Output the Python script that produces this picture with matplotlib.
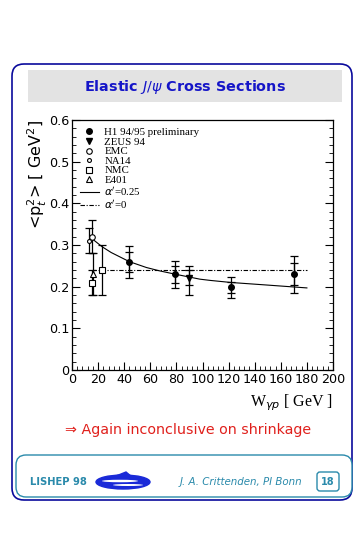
import matplotlib
matplotlib.use("Agg")
import matplotlib.pyplot as plt
from matplotlib.patches import FancyBboxPatch, Rectangle, Ellipse, Polygon
from matplotlib.ticker import MultipleLocator

# H1 94/95 preliminary
h1_w = [44, 79, 122, 170]
h1_pt2 = [0.26, 0.23, 0.199, 0.23]
h1_stat = [0.024, 0.020, 0.013, 0.027]
h1_tot = [0.038, 0.032, 0.025, 0.044]

# ZEUS 94
zeus_w = [90]
zeus_pt2 = [0.222]
zeus_stat = [0.017]
zeus_tot_lo = [0.041]
zeus_tot_hi = [0.027]

# fixed target
emc_w, emc_pt2, emc_err = [15], [0.32], [0.04]
na14_w, na14_pt2, na14_err = [13], [0.31], [0.03]
nmc_w, nmc_pt2, nmc_err = [15, 23], [0.21, 0.24], [0.03, 0.06]
e401_w, e401_pt2, e401_err = [16], [0.23], [0.05]

# alpha' = 0.25 curve
curve_w = [15, 23, 30, 44, 57, 67, 79, 98, 106, 122, 149, 180]
curve_pt2 = [0.316, 0.296, 0.282, 0.260, 0.246, 0.238, 0.230, 0.218, 0.215, 0.210, 0.204, 0.197]
# alpha' = 0 line
flat_w = [15, 180]
flat_pt2 = [0.24, 0.24]

navy = "#0a0a9c"
teal = "#2a8aab"

fig = plt.figure(figsize=(3.63, 5.35), dpi=100)

# slide decoration layer in pixel coords
bg = fig.add_axes([0, 0, 1, 1])
bg.set_xlim(0, 363)
bg.set_ylim(535, 0)
bg.axis("off")
bg.add_patch(FancyBboxPatch((12, 64), 340, 436, boxstyle="round,pad=0,rounding_size=12",
                            fc="white", ec=navy, lw=1.2))
bg.add_patch(Rectangle((28, 70), 314, 32, fc="#e3e3e3", ec="none"))
bg.text(185, 87, r"Elastic $J/\psi$ Cross Sections", color="#1515c8", fontsize=10.4,
        fontweight="bold", ha="center", va="center")
bg.text(188, 430, "\u21d2 Again inconclusive on shrinkage", color="#e0201c", fontsize=10.3,
        ha="center", va="center")
bg.add_patch(FancyBboxPatch((16, 455), 336, 42, boxstyle="round,pad=0,rounding_size=10",
                            fc="white", ec=teal, lw=1.0))
bg.text(30, 482, "LISHEP 98", color=teal, fontsize=7.2, fontweight="bold", va="center")
bg.add_patch(Ellipse((123, 482), 54, 14, fc="#1a2ad8", ec="#1a2ad8"))
bg.add_patch(Polygon([[116, 476], [126, 472], [132, 477]], closed=True, fc="#1a2ad8", ec="#1a2ad8"))
bg.add_patch(Ellipse((120, 481), 36, 2.5, fc="white", ec="none"))
bg.add_patch(Ellipse((128, 485), 30, 2, fc="white", ec="none"))
bg.text(241, 482, "J. A. Crittenden, PI Bonn", color=teal, fontsize=7.4, style="italic",
        ha="center", va="center")
bg.add_patch(FancyBboxPatch((317, 472), 22, 19, boxstyle="round,pad=0,rounding_size=3",
                            fc="white", ec=teal, lw=1.0))
bg.text(328, 482, "18", color=teal, fontsize=7, fontweight="bold", ha="center", va="center")

ax = fig.add_axes([72 / 363, 165 / 535, 261 / 363, 250 / 535])
ax.set_facecolor("none")

ax.plot(curve_w, curve_pt2, "-", color="black", lw=0.8, label=r"$\alpha'$=0.25")
ax.plot(flat_w, flat_pt2, "-.", color="black", lw=0.8, dashes=(4, 1.5, 1, 1.5), label=r"$\alpha'$=0")

ek = dict(fmt="none", ecolor="black", elinewidth=0.9, capsize=3, capthick=0.9)
ax.errorbar(h1_w, h1_pt2, yerr=h1_tot, **ek)
ax.errorbar(h1_w, h1_pt2, yerr=h1_stat, **ek)
ax.errorbar(zeus_w, zeus_pt2, yerr=[zeus_tot_lo, zeus_tot_hi], **ek)
ax.errorbar(zeus_w, zeus_pt2, yerr=zeus_stat, **ek)
ax.errorbar(emc_w, emc_pt2, yerr=emc_err, **ek)
ax.errorbar(na14_w, na14_pt2, yerr=na14_err, **ek)
ax.errorbar(nmc_w, nmc_pt2, yerr=nmc_err, **ek)
ax.errorbar(e401_w, e401_pt2, yerr=e401_err, **ek)

h1 = ax.plot(h1_w, h1_pt2, "o", ms=4, color="black", ls="none", label="H1 94/95 preliminary")[0]
zs = ax.plot(zeus_w, zeus_pt2, "v", ms=4, color="black", ls="none", label="ZEUS 94")[0]
em = ax.plot(emc_w, emc_pt2, "o", ms=4, mfc="white", mec="black", mew=0.8, ls="none", label="EMC")[0]
na = ax.plot(na14_w, na14_pt2, "o", ms=2.8, mfc="white", mec="black", mew=0.8, ls="none", label="NA14")[0]
nm = ax.plot(nmc_w, nmc_pt2, "s", ms=4, mfc="white", mec="black", mew=0.8, ls="none", label="NMC")[0]
e4 = ax.plot(e401_w, e401_pt2, "^", ms=4, mfc="white", mec="black", mew=0.8, ls="none", label="E401")[0]
lines = ax.get_lines()[:2]

leg = ax.legend(handles=[h1, zs, em, na, nm, e4] + lines, loc="upper left",
                bbox_to_anchor=(0.0, 1.0), frameon=False, handlelength=1.8, handletextpad=0.5,
                borderaxespad=0.3, labelspacing=0.0, prop={"family": "Liberation Serif", "size": 7.8})

ax.set_xlim(0, 200)
ax.set_ylim(0, 0.6)
ax.xaxis.set_major_locator(MultipleLocator(20))
ax.xaxis.set_minor_locator(MultipleLocator(4))
ax.yaxis.set_major_locator(MultipleLocator(0.1))
ax.yaxis.set_minor_locator(MultipleLocator(0.02))
ax.tick_params(which="both", direction="in", right=True, top=False, labelsize=9.2, pad=2)
ax.tick_params(which="major", length=6)
ax.tick_params(which="minor", length=3)
ax.set_yticks([0, 0.1, 0.2, 0.3, 0.4, 0.5, 0.6])
ax.set_yticklabels(["0", "0.1", "0.2", "0.3", "0.4", "0.5", "0.6"])
for s in ax.spines.values():
    s.set_linewidth(0.9)

ax.set_xlabel(r"W$_{\gamma p}$ [ GeV ]", family="Liberation Serif", fontsize=11.5,
              loc="right", labelpad=5)
ax.set_ylabel(r"<p$_t^2$> [ GeV$^2$]", fontsize=11.5, loc="top")
ax.yaxis.set_label_coords(-0.088, 1.0)

fig.savefig("out.png", dpi=100)
